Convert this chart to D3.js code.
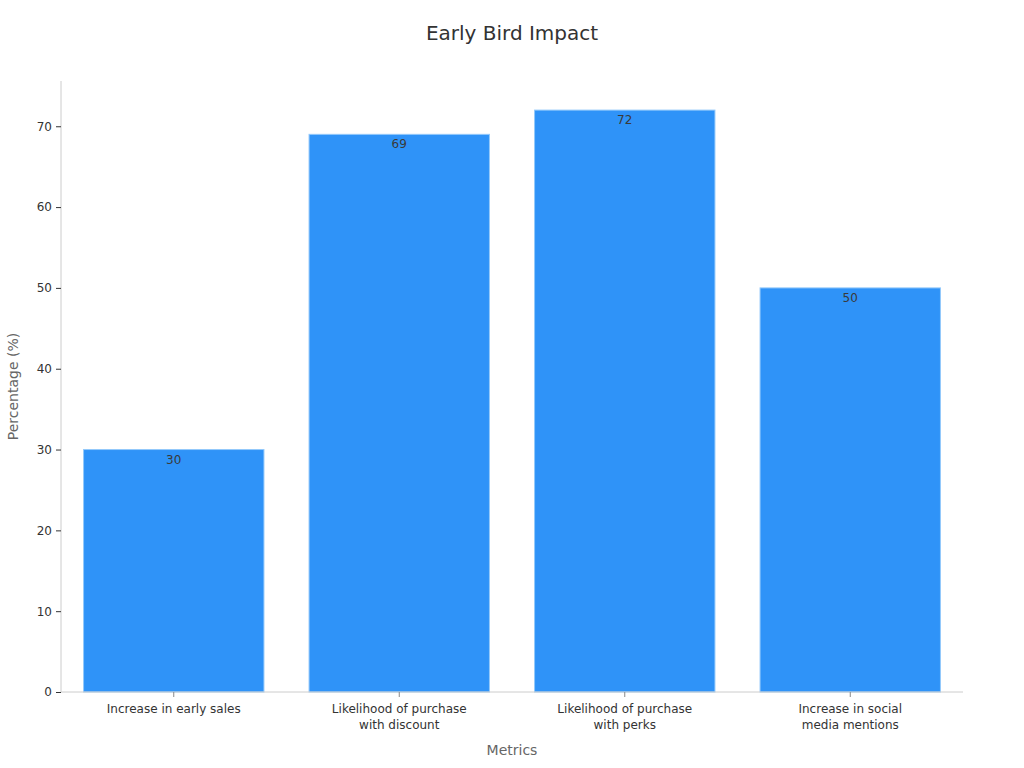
<!DOCTYPE html>
<html>
<head>
<meta charset="utf-8">
<script src="https://cdn.jsdelivr.net/npm/d3@7"></script>
<style>
  body { margin: 0; background: #fff; }
  text { font-family: "DejaVu Sans", sans-serif; }
</style>
</head>
<body>
<svg id="chart" width="1024" height="768"></svg>
<script>
// chart data
var categories = ["Increase in early sales", "Likelihood of purchase with discount", "Likelihood of purchase with perks", "Increase in social media mentions"];
var labelLines = [["Increase in early sales"], ["Likelihood of purchase", "with discount"], ["Likelihood of purchase", "with perks"], ["Increase in social", "media mentions"]];
var values = [30, 69, 72, 50];
var yTicks = [0, 10, 20, 30, 40, 50, 60, 70];

var svg = d3.select("#chart");
var margin = {top: 81, right: 61, bottom: 76, left: 61};
var width = 1024 - margin.left - margin.right;
var height = 768 - margin.top - margin.bottom;

var g = svg.append("g")
    .attr("transform", "translate(" + margin.left + "," + margin.top + ")");

var x = d3.scaleBand()
    .domain(categories)
    .range([0, width])
    .paddingInner(0.2)
    .paddingOuter(0.1);

var y = d3.scaleLinear()
    .domain([0, d3.max(values) * 1.05])
    .range([height, 0]);

// title
svg.append("text")
    .attr("x", 512)
    .attr("y", 40)
    .attr("text-anchor", "middle")
    .style("font-size", "20px")
    .style("fill", "#333")
    .text("Early Bird Impact");

// bars
g.selectAll(".bar")
    .data(values)
  .enter().append("rect")
    .attr("class", "bar")
    .attr("x", function(d, i) { return x(categories[i]); })
    .attr("y", function(d) { return y(d); })
    .attr("width", x.bandwidth())
    .attr("height", function(d) { return height - y(d); })
    .style("fill", "#2f93f8")
    .style("stroke", "#93c9fb")
    .style("stroke-width", 1);

// value labels
g.selectAll(".val")
    .data(values)
  .enter().append("text")
    .attr("class", "val")
    .attr("x", function(d, i) { return x(categories[i]) + x.bandwidth() / 2; })
    .attr("y", function(d) { return y(d) + 14; })
    .attr("text-anchor", "middle")
    .style("font-size", "12px")
    .style("fill", "#3a3a3a")
    .text(function(d) { return d; });

// y axis
var yAxis = g.append("g")
    .call(d3.axisLeft(y).tickValues(yTicks).tickSize(5).tickPadding(4));
yAxis.select(".domain").attr("stroke", "#ccc").attr("d", "M0," + height + "V0");
yAxis.selectAll(".tick line").attr("stroke", "#333");
yAxis.selectAll(".tick text").style("font-size", "12px").style("fill", "#333");

// x axis
var xAxis = g.append("g")
    .attr("transform", "translate(0," + height + ")")
    .call(d3.axisBottom(x).tickSize(5).tickFormat(""));
xAxis.select(".domain").attr("stroke", "#ccc").attr("d", "M0,0H" + width);
xAxis.selectAll(".tick line").attr("stroke", "#888");

xAxis.selectAll(".tick").each(function(d, i) {
  var t = d3.select(this).append("text")
      .attr("text-anchor", "middle")
      .style("font-size", "12px")
      .style("fill", "#333");
  labelLines[i].forEach(function(line, j) {
    t.append("tspan").attr("x", 0).attr("y", 21 + j * 16).text(line);
  });
});

// axis titles
svg.append("text")
    .attr("x", margin.left + width / 2)
    .attr("y", 755)
    .attr("text-anchor", "middle")
    .style("font-size", "14px")
    .style("fill", "#666")
    .text("Metrics");

svg.append("text")
    .attr("transform", "translate(18," + (margin.top + height / 2) + ")rotate(-90)")
    .attr("text-anchor", "middle")
    .style("font-size", "14px")
    .style("fill", "#666")
    .text("Percentage (%)");
</script>
</body>
</html>
